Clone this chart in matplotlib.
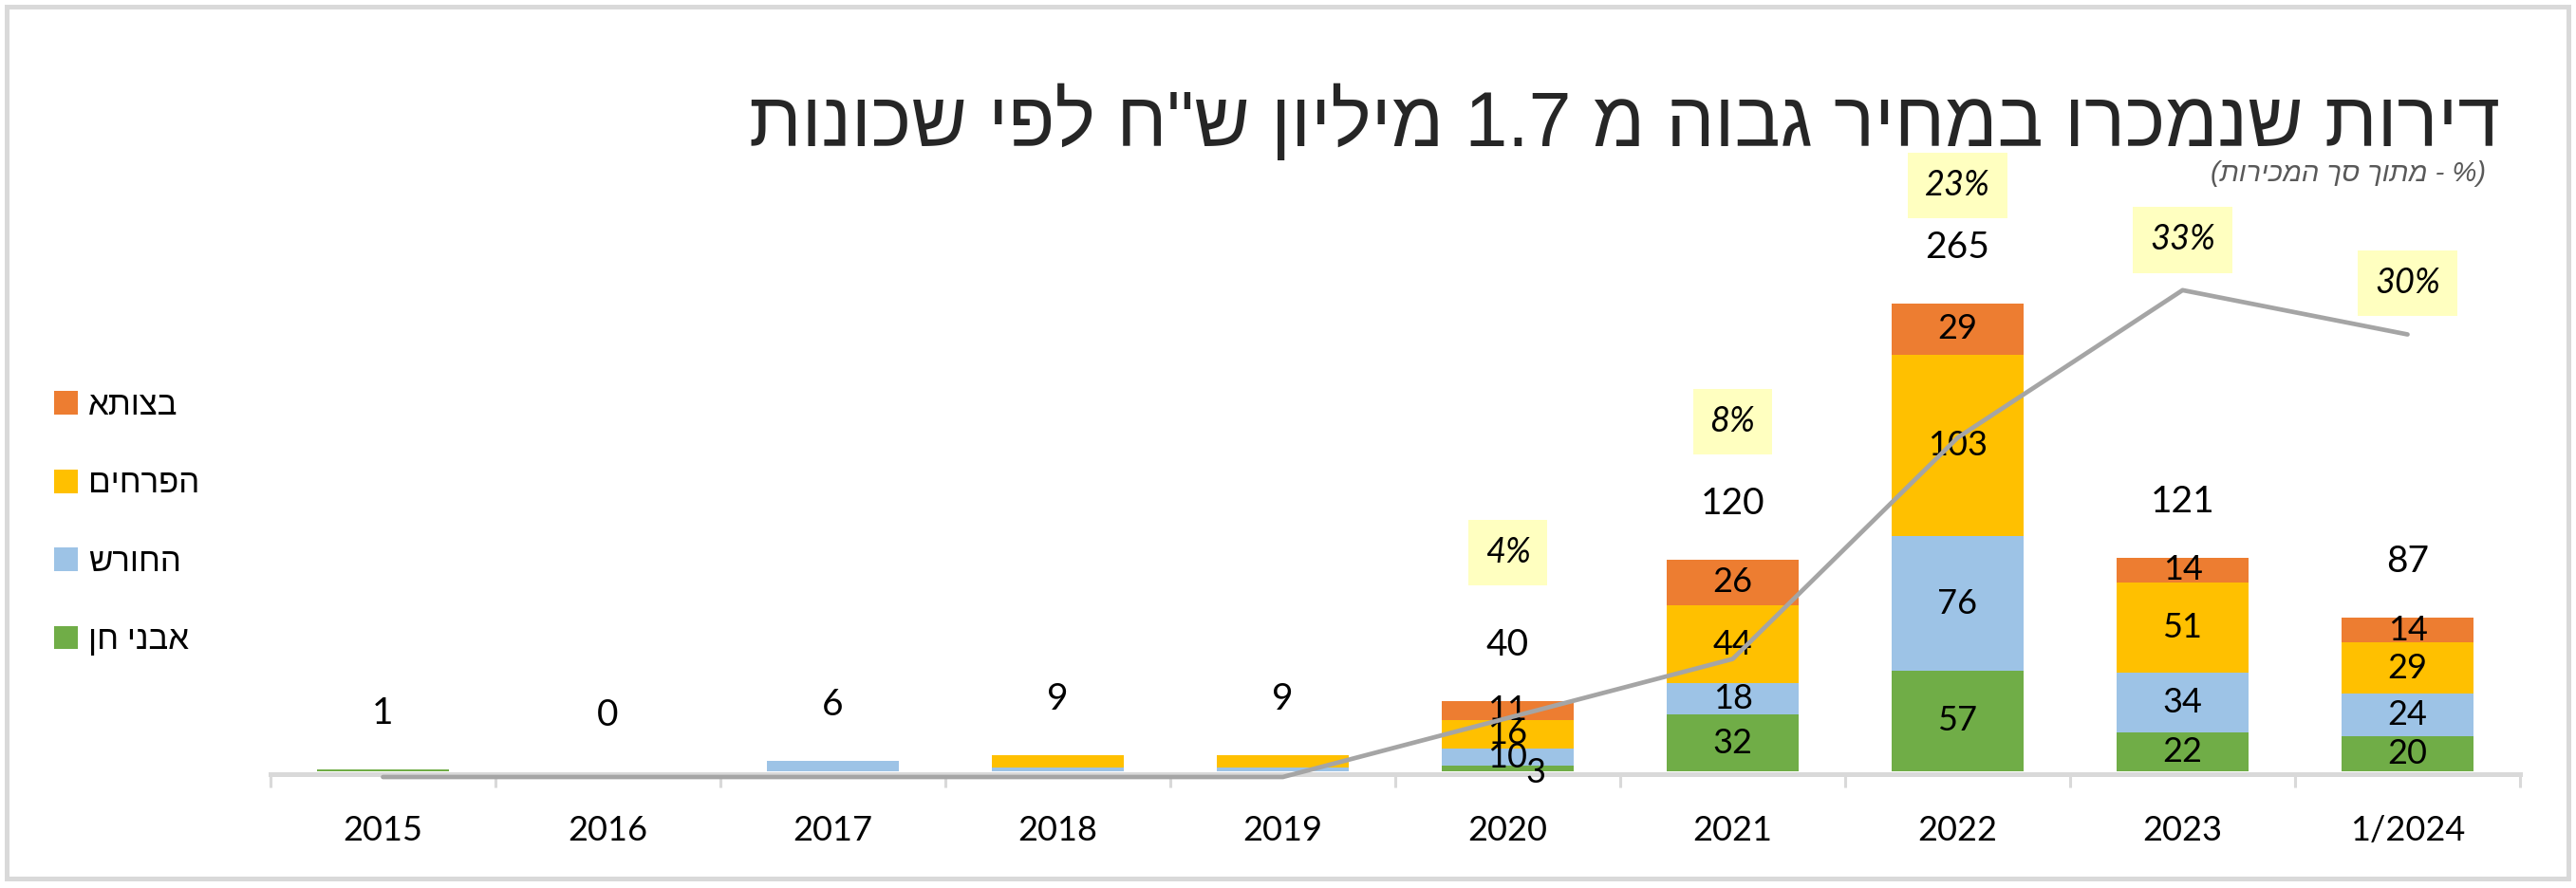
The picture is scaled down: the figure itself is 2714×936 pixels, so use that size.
import re
import numpy as np
import matplotlib
matplotlib.use('Agg')
import matplotlib.pyplot as plt
from matplotlib.patches import Rectangle

# data
years = ['2015', '2016', '2017', '2018', '2019', '2020', '2021', '2022', '2023', '1/2024']
avnei_chen = [1, 0, 0, 0, 0, 3, 32, 57, 22, 20]
hahoresh = [0, 0, 6, 2, 2, 10, 18, 76, 34, 24]
haprachim = [0, 0, 0, 7, 7, 16, 44, 103, 51, 29]
betzavta = [0, 0, 0, 0, 0, 11, 26, 29, 14, 14]
share_pct = [0, 0, 0, 0, 0, 4, 8, 23, 33, 30]

names = ['אבני חן', 'החורש', 'הפרחים', 'בצותא']
colors = ['#70AD47', '#9DC3E6', '#FFC000', '#ED7D31']
TITLE = 'דירות שנמכרו במחיר גבוה מ 1.7 מיליון ש"ח לפי שכונות'
SUBTITLE = '(% - מתוך סך המכירות)'

# where the % boxes sit (secondary axis units), as placed in the original
pct_label_y = [None, None, None, None, None, 15.2, 24.1, 40.1, 36.4, 33.5]

W, H = 2714, 936
plt.rcParams['font.family'] = ['Lato', 'Liberation Sans', 'DejaVu Sans']


def rtl(s):
    # matplotlib has no bidi: flip to visual order, keep numbers LTR
    out = s[::-1].translate(str.maketrans('()', ')('))
    return re.sub(r'[0-9.]+', lambda m: m.group(0)[::-1], out)


fig = plt.figure(figsize=(W / 100, H / 100), dpi=100)

# axis geometry in pixels
x_left, x_right = 285, 2655
y_axis, y_top = 816, 150
px_per_unit = 1.861
px_per_pct = 15.55

ax = fig.add_axes([x_left / W, (H - y_axis) / H, (x_right - x_left) / W, (y_axis - y_top) / H])
ax.set_xlim(-0.5, 9.5)
ax.set_ylim(-3 / px_per_unit, (813 - y_top) / px_per_unit)

x = np.arange(len(years))
series = [avnei_chen, hahoresh, haprachim, betzavta]
totals = np.sum(series, axis=0)

bottom = np.zeros(len(years))
handles = []
for vals, col, name in zip(series, colors, names):
    vals = np.array(vals)
    bc = ax.bar(x, vals, width=0.59, bottom=bottom, color=col, linewidth=0, zorder=3)
    handles.append(bc)
    for i in x:
        if totals[i] >= 20 and vals[i] > 0:
            dx, dy = (0, 0)
            if vals[i] < 5:
                dx, dy = (21, -3)  # small label pushed aside like in the original
            ax.annotate(str(vals[i]), (i, bottom[i] + vals[i] / 2), xytext=(dx, dy),
                        textcoords='offset points', ha='center', va='center',
                        fontsize=26, color='black', zorder=6)
    bottom += vals

for i in x:
    ax.annotate(str(totals[i]), (i, totals[i]), xytext=(0, 42.5), textcoords='offset points',
                ha='center', va='center', fontsize=28, color='black')

for s in ['top', 'left', 'right']:
    ax.spines[s].set_visible(False)
ax.spines['bottom'].set_color('#d9d9d9')
ax.spines['bottom'].set_linewidth(3.6)
ax.spines['bottom'].set_zorder(2)
ax.set_yticks([])
ax.set_xticks(np.arange(-0.5, 10, 1))
ax.set_xticklabels([])
ax.tick_params(axis='x', which='major', direction='out', length=10, width=2.2, color='#d9d9d9')
ax.set_xticks(x, minor=True)
ax.set_xticklabels(years, minor=True)
ax.tick_params(axis='x', which='minor', length=0, pad=31, labelsize=26)
ax.patch.set_visible(False)

# share of all sales, secondary axis
ax2 = ax.twinx()
ax2.set_ylim((819 - y_axis) / px_per_pct, (819 - y_top) / px_per_pct)
ax2.plot(x, share_pct, color='#A5A5A5', lw=3.4, zorder=4, clip_on=False, solid_capstyle='round')
for i in x:
    if share_pct[i] > 0:
        ax2.text(i, pct_label_y[i], f'{share_pct[i]}%', ha='center', va='center', fontsize=26,
                 style='italic', color='black',
                 bbox=dict(boxstyle='square,pad=0.5', fc='#FFFFC0', ec='none'))
ax2.set_yticks([])
for s in ax2.spines.values():
    s.set_visible(False)

# legend on the left, top entry is the last stacked series
leg = fig.legend(handles[::-1], [rtl(n) for n in names[::-1]], loc='center left',
                 bbox_to_anchor=(57 / W, (H - 551) / H), frameon=False, fontsize=25,
                 handlelength=0.72, handleheight=0.72, handletextpad=0.32,
                 labelspacing=1.45, borderpad=0, borderaxespad=0)

fig.text(2634 / W, (H - 154) / H, rtl(TITLE), ha='right', va='baseline', fontsize=58,
         color='#262626', family=['Liberation Sans', 'DejaVu Sans'])
fig.text(2619 / W, (H - 183) / H, rtl(SUBTITLE), ha='right', va='center', fontsize=21,
         style='italic', color='#595959', family=['Liberation Sans', 'DejaVu Sans'])

fig.patches.append(Rectangle((6.5 / W, 10.5 / H), 2699 / W, 919 / H, transform=fig.transFigure,
                             fill=False, ec='#d9d9d9', lw=3.6))

fig.savefig('out.png', dpi=100)
